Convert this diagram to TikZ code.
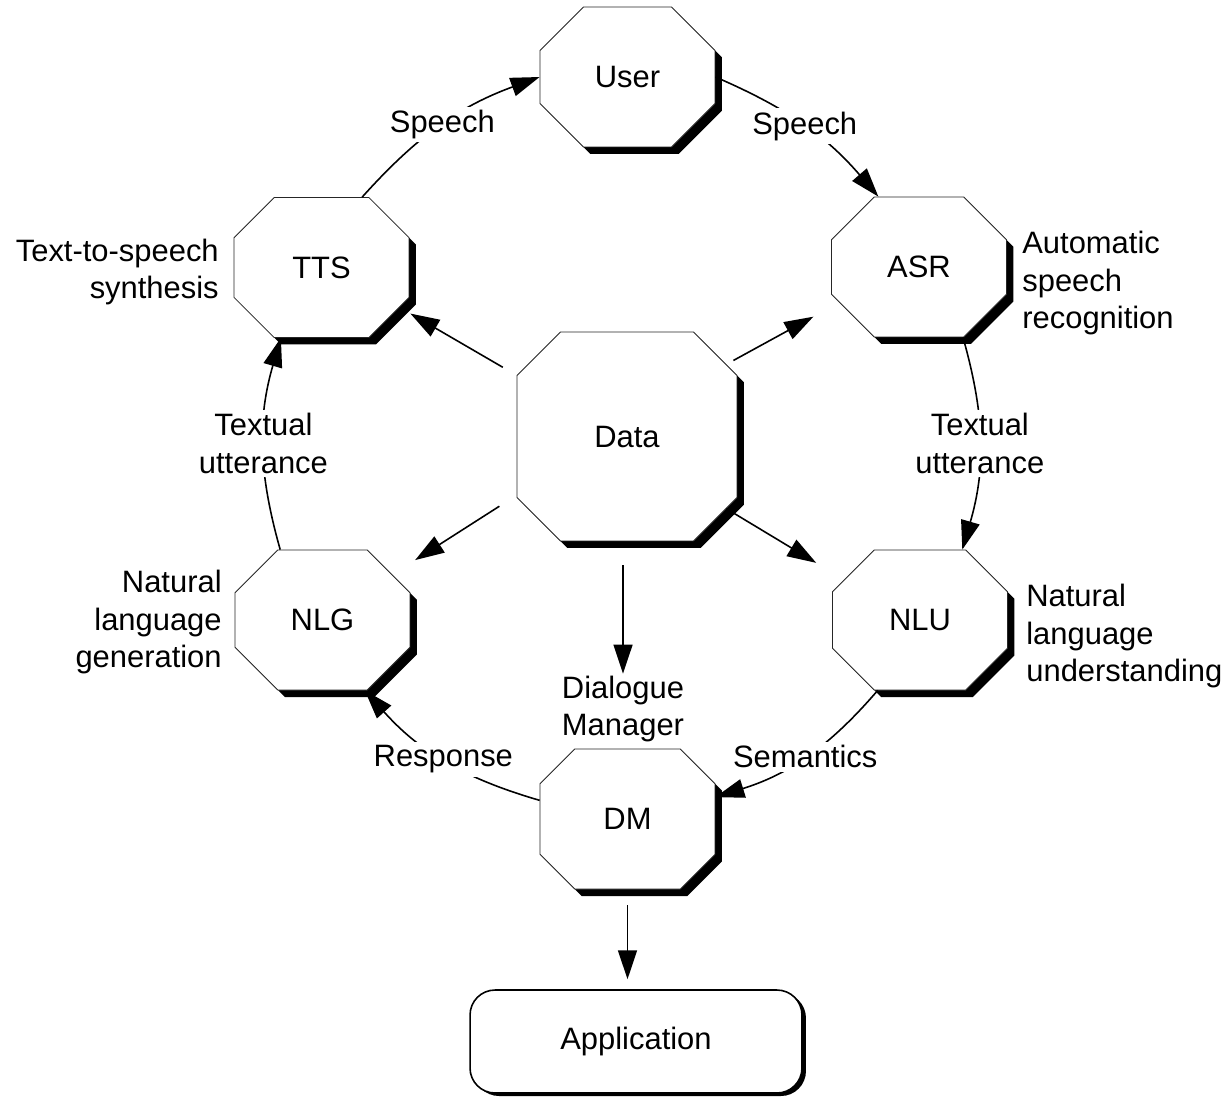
\documentclass[tikz,border=0pt]{standalone}
\usepackage{fontspec}
\setmainfont{Liberation Sans}
\usetikzlibrary{shapes.misc,shadows,arrows.meta,positioning}

\tikzset{
  octo/.style={chamfered rectangle, chamfered rectangle xsep=0.9cm, chamfered rectangle ysep=0.9cm,
    draw=black!85, line width=0.45pt, fill=white, inner sep=0pt,
    minimum width=3.5cm, minimum height=2.8cm,
    drop shadow={shadow xshift=0.14cm, shadow yshift=-0.14cm, fill=black, opacity=1}},
  bigocto/.style={octo, chamfered rectangle xsep=1.32cm, chamfered rectangle ysep=1.32cm,
    minimum width=4.4cm, minimum height=4.18cm},
  appbox/.style={rectangle, rounded corners=0.5cm, draw, line width=0.9pt, fill=white,
    minimum width=6.64cm, minimum height=2.06cm,
    drop shadow={shadow xshift=0.08cm, shadow yshift=-0.06cm, fill=black, opacity=1}},
  arr/.style={-{Triangle[length=0.58cm,width=0.38cm]}, line width=0.9pt},
  ring/.style={arr, bend left=16},
  lbl/.style={fill=white, inner sep=2pt, align=center},
  side/.style={inner sep=0pt},
}

\begin{document}
\begin{tikzpicture}[x=0.02cm, y=0.02cm, font=\fontsize{17.6}{21.5}\selectfont]
  \useasboundingbox (0,0) rectangle (1226,-1100);

  % the dialogue loop
  \node[octo]    (user) at (627.5,-77)   {User};
  \node[octo]    (tts)  at (321.5,-267.5) {TTS};
  \node[octo]    (asr)  at (919,-267)    {ASR};
  \node[bigocto] (data) at (627,-436.5)  {Data};
  \node[octo]    (nlg)  at (322.5,-620)  {NLG};
  \node[octo]    (nlu)  at (920,-620)    {NLU};
  \node[octo]    (dm)   at (627.5,-819)  {DM};
  \node[appbox]  (app)  at (636,-1041.5) {Application};

  % long names
  \node[side, align=right, anchor=east] (ttsname) at (219,-272)  {Text-to-speech\\synthesis};
  \node[side, align=left,  anchor=west] (asrname) at (1022,-283) {Automatic\\speech\\recognition};
  \node[side, align=right, anchor=east] (nlgname) at (222,-622)  {Natural\\language\\generation};
  \node[side, align=left,  anchor=west] (nluname) at (1026,-636) {Natural\\language\\understanding};
  \node[side, align=center]             (dmname)  at (623,-709)  {Dialogue\\Manager};

  \draw[ring, bend left=14] (tts.60) to node[lbl] {Speech} (user.west);
  \draw[ring, bend left=13] (user.east) to node[lbl] {Speech} (asr.120);
  \draw[ring] (asr.-58)  to node[lbl] {Textual\\utterance} (nlu.59);
  \draw[ring] (nlu.-121) to node[lbl] {Semantics} (dm.14);
  \draw[ring] (dm.168)   to node[lbl] {Response} (nlg.-59);
  \draw[ring] (nlg.121)  to node[lbl] {Textual\\utterance} (tts.-120);

  % data feeds every module
  \draw[arr, shorten <=0.32cm, shorten >=0.25cm] (data.151.8) -- (tts.-27.4);
  \draw[arr, shorten <=0.16cm, shorten >=0.59cm] (data.36)    -- (asr.204.2);
  \draw[arr, shorten <=0.41cm, shorten >=0.54cm] (data.208.8) -- (nlg.33.3);
  \draw[arr, shorten >=0.65cm]                   (data.-36)   -- (nlu.152.4);
  \draw[arr, shorten <=0.48cm, shorten >=1pt] (data.south -| dmname.north) -- (dmname.north);
  \draw[arr, shorten <=0.32cm, shorten >=0.2cm] (dm.south) -- (dm.south |- app.north);
\end{tikzpicture}
\end{document}
